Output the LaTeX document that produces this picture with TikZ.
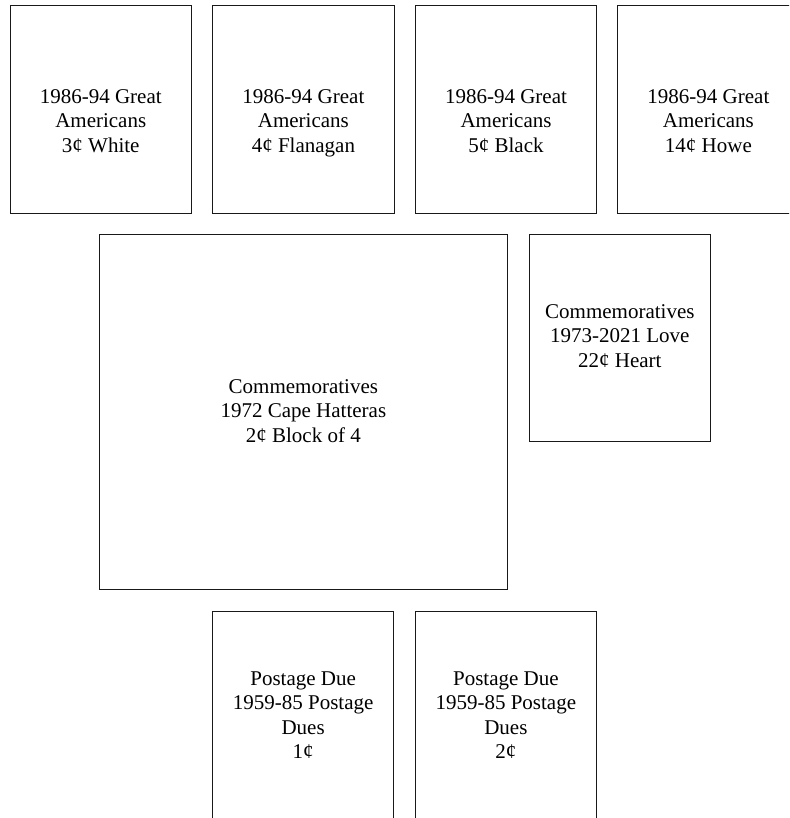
\documentclass[tikz,border=0pt]{standalone}
\usepackage{fontspec}
\setmainfont{Liberation Serif}
\begin{document}
\begin{tikzpicture}[x=1pt,y=1pt,
  box/.style={draw=black!90, line width=0.9pt, inner sep=0pt, minimum width=181.5pt, minimum height=208pt},
  lbl/.style={align=center, inner sep=0pt, font=\fontsize{21}{24.4}\selectfont}]
\useasboundingbox (0,0) rectangle (789,-818);
\clip (0,0) rectangle (789,-818);
% top row
\node[box] (b1) at (100.75,-109) {};
\node[box] (b2) at (303.4,-109) {};
\node[box] (b3) at (506,-109) {};
\node[box] (b4) at (708.4,-109) {};
\node[lbl] (t1) at (100.75,-121) {1986-94 Great\\Americans\\3¢ White};
\node[lbl] (t2) at (303.4,-123) {1986-94 Great\\Americans\\4¢ Flanagan};
\node[lbl] (t3) at (506,-121) {1986-94 Great\\Americans\\5¢ Black};
\node[lbl] (t4) at (708.4,-121) {1986-94 Great\\Americans\\14¢ Howe};
% middle
\node[box, minimum width=408.7pt, minimum height=355pt] (big) at (303.35,-411.8) {};
\node[lbl] (tbig) at (303.35,-411) {Commemoratives\\1972 Cape Hatteras\\2¢ Block of 4};
\node[box, minimum width=181.7pt, minimum height=207.7pt] (heart) at (619.85,-337.85) {};
\node[lbl] (theart) at (619.85,-336) {Commemoratives\\1973-2021 Love\\22¢ Heart};
% bottom
\node[box] (d1) at (303.15,-715) {};
\node[box] (d2) at (505.85,-715) {};
\node[lbl] (td1) at (303.15,-715) {Postage Due\\1959-85 Postage\\Dues\\1¢};
\node[lbl] (td2) at (505.85,-715) {Postage Due\\1959-85 Postage\\Dues\\2¢};
\end{tikzpicture}
\end{document}
